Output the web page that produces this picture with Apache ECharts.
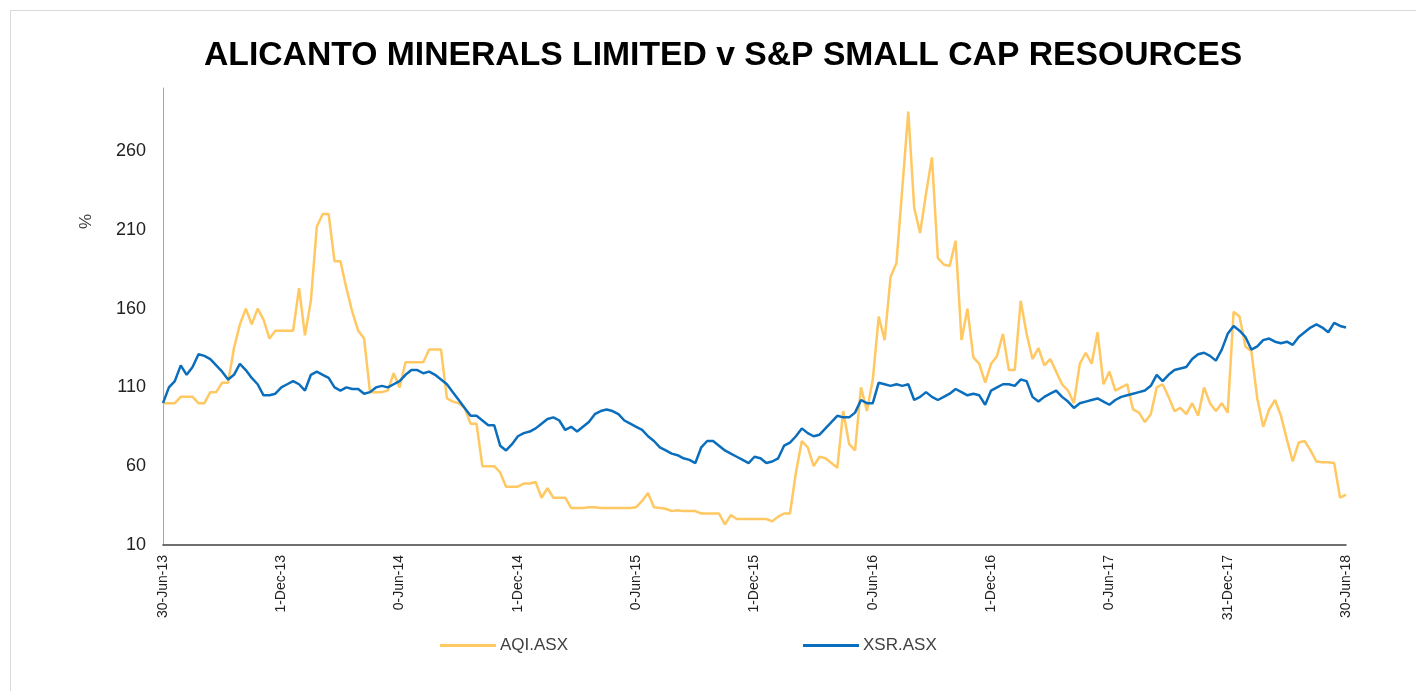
<!DOCTYPE html>
<html>
<head>
<meta charset="utf-8">
<script src="https://cdn.jsdelivr.net/npm/echarts@6/dist/echarts.min.js"></script>
<style>
  html, body { margin: 0; padding: 0; background: #fff; }
  #frame { position: absolute; left: 10px; top: 10px; width: 1420px; height: 700px; border: 1px solid #d9d9d9; }
  #chart { position: absolute; left: 0; top: 0; width: 1416px; height: 691px; }
</style>
</head>
<body>
<div id="frame"></div>
<div id="chart"></div>
<script>
// tick labels shown on the x axis (one every 20 points)
const tickLabels = ['30-Jun-13', '1-Dec-13', '0-Jun-14', '1-Dec-14', '0-Jun-15', '1-Dec-15',
                    '0-Jun-16', '1-Dec-16', '0-Jun-17', '31-Dec-17', '30-Jun-18'];

// AQI.ASX, rebased to 100
const aqi = [
  100, 100, 100, 104, 104, 104, 100, 100, 107, 107,
  113, 113, 135, 150, 160, 150, 160, 153, 141, 146,
  146, 146, 146, 173, 143, 165, 212, 220, 220, 190,
  190, 173, 158, 146, 141, 107, 107, 107, 108, 119,
  110, 126, 126, 126, 126, 134, 134, 134, 103, 101,
  100, 97, 87, 87, 60, 60, 60, 56, 47, 47,
  47, 49, 49, 50, 40, 46, 40, 40, 40, 33.5,
  33.5, 33.5, 34, 34, 33.5, 33.5, 33.5, 33.5, 33.5, 33.5,
  34, 38, 43, 34, 33.5, 33, 31.5, 32, 31.5, 31.5,
  31.5, 30, 30, 30, 30, 23, 29, 26.5, 26.5, 26.5,
  26.5, 26.5, 26.5, 25, 28, 30, 30, 56, 76, 72,
  60, 66, 65, 62, 59, 95, 74, 70, 110, 95,
  115, 155, 140, 180, 189, 237, 285, 224, 208, 233,
  256, 192, 188, 187, 203, 140, 160, 129, 125, 113,
  125, 130, 144, 121, 121, 165, 144, 128, 135, 124,
  128, 120, 112, 108, 100, 125, 132, 125, 145, 112,
  120, 108, 110, 112, 96, 94, 88, 93, 110, 112,
  104, 95, 97, 93, 100, 92, 110, 100, 95, 100,
  94, 158, 155, 136, 133, 103, 85, 96, 102, 92,
  77, 63, 75, 76, 70, 63, 62.5, 62.5, 62, 40,
  42
];

// XSR.ASX, rebased to 100
const xsr = [
  100, 110, 114, 124, 118, 123, 131, 130, 128, 124,
  120, 115, 118, 125, 121, 116, 112, 105, 105, 106,
  110, 112, 114, 112, 108, 118, 120, 118, 116, 110,
  108, 110, 109, 109, 106, 107, 110, 111, 110, 112,
  114, 118, 121, 121, 119, 120, 118, 115, 112, 107,
  102, 97, 92, 92, 89, 86, 86, 73, 70, 74,
  79, 81, 82, 84, 87, 90, 91, 89, 83, 85,
  82, 85, 88, 93, 95, 96, 95, 93, 89, 87,
  85, 83, 79, 76, 72, 70, 68, 67, 65, 64,
  62, 72, 76, 76, 73, 70, 68, 66, 64, 62,
  66, 65, 62, 63, 65, 73, 75, 79, 84, 81,
  79, 80, 84, 88, 92, 91, 91, 94, 102, 100,
  100, 113, 112, 111, 112, 111, 112, 102, 104, 107,
  104, 102, 104, 106, 109, 107, 105, 106, 105, 99,
  108, 110, 112, 112, 111, 115, 114, 104, 101, 104,
  106, 108, 104, 101, 97, 100, 101, 102, 103, 101,
  99, 102, 104, 105, 106, 107, 108, 111, 118, 114,
  118, 121, 122, 123, 128, 131, 132, 130, 127, 134,
  144, 149, 146, 142, 134, 136, 140, 141, 139, 138,
  139, 137, 142, 145, 148, 150, 148, 145, 151, 149,
  148
];

const categories = aqi.map((v, i) => i);

const chart = echarts.init(document.getElementById('chart'));
chart.setOption({
  animation: false,
  title: {
    text: 'ALICANTO MINERALS LIMITED v S&P SMALL CAP RESOURCES',
    left: 199,
    top: 34,
    textStyle: { fontFamily: 'Liberation Sans, Arial, sans-serif', fontSize: 33.7, fontWeight: 'bold', color: '#000' }
  },
  legend: {
    left: 435,
    top: 632,
    icon: 'rect',
    itemWidth: 56,
    itemHeight: 3,
    itemGap: 235,
    textStyle: { fontFamily: 'Liberation Sans, Arial, sans-serif', fontSize: 17, color: '#404040', padding: [0, 0, 0, -1] },
    data: ['AQI.ASX', 'XSR.ASX']
  },
  graphic: [{
    type: 'text',
    left: 78,
    top: 214,
    rotation: Math.PI / 2,
    style: { text: '%', fontFamily: 'Liberation Sans, Arial, sans-serif', fontSize: 17, fill: '#404040' }
  }],
  grid: { left: 163, right: 70, top: 88, bottom: 146, containLabel: false },
  xAxis: {
    type: 'category',
    data: categories,
    boundaryGap: false,
    axisLine: { lineStyle: { color: '#404040', width: 1.5 } },
    axisTick: { show: false },
    axisLabel: {
      interval: 19,
      rotate: 90,
      margin: 10,
      fontFamily: 'Liberation Sans, Arial, sans-serif',
      fontSize: 14,
      color: '#222',
      formatter: (v, i) => tickLabels[i / 20]
    },
    splitLine: { show: false }
  },
  yAxis: {
    type: 'value',
    min: 10,
    max: 300,
    interval: 50,
    axisLine: { show: true, lineStyle: { color: '#a6a6a6', width: 1 } },
    axisTick: { show: false },
    axisLabel: {
      margin: 17,
      fontFamily: 'Liberation Sans, Arial, sans-serif',
      fontSize: 18,
      color: '#222',
      formatter: v => (v > 260 ? '' : v)
    },
    splitLine: { show: false }
  },
  series: [
    {
      name: 'AQI.ASX',
      type: 'line',
      data: aqi,
      symbol: 'none',
      lineStyle: { color: '#FFC862', width: 2.5 },
      itemStyle: { color: '#FFC862' }
    },
    {
      name: 'XSR.ASX',
      type: 'line',
      data: xsr,
      symbol: 'none',
      lineStyle: { color: '#0A6EBD', width: 2.5 },
      itemStyle: { color: '#0A6EBD' }
    }
  ]
});
</script>
</body>
</html>
